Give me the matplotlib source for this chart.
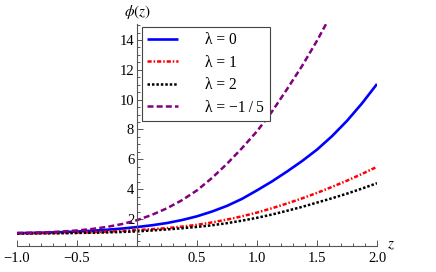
import numpy as np
import matplotlib
matplotlib.use("Agg")
import matplotlib.pyplot as plt

plt.rcParams['font.family'] = ['Liberation Serif', 'DejaVu Serif']
plt.rcParams['mathtext.fontset'] = 'stix'
plt.rcParams['lines.scale_dashes'] = False

# Data
z = [-1.0, -0.875, -0.75, -0.625, -0.5, -0.375, -0.25, -0.125, 0.0,
     0.125, 0.25, 0.375, 0.5, 0.625, 0.75, 0.875, 1.0,
     1.125, 1.25, 1.375, 1.5, 1.625, 1.75, 1.875, 2.0]
phi_l0 = [1.05, 1.07, 1.09, 1.12, 1.16, 1.21, 1.28, 1.36, 1.46,
          1.58, 1.73, 1.93, 2.18, 2.50, 2.88, 3.35, 3.92,
          4.52, 5.18, 5.88, 6.65, 7.55, 8.58, 9.75, 11.05]
phi_l1 = [1.04, 1.04, 1.05, 1.06, 1.08, 1.11, 1.15, 1.20, 1.26,
          1.32, 1.39, 1.49, 1.61, 1.77, 1.96, 2.18, 2.43,
          2.72, 3.04, 3.38, 3.75, 4.15, 4.57, 5.02, 5.50]
phi_l2 = [1.03, 1.03, 1.04, 1.05, 1.06, 1.08, 1.10, 1.13, 1.17,
          1.23, 1.30, 1.38, 1.47, 1.58, 1.72, 1.89, 2.08,
          2.30, 2.55, 2.81, 3.10, 3.39, 3.70, 4.04, 4.40]
z_m = [-1.0, -0.875, -0.75, -0.625, -0.5, -0.375, -0.25, -0.125, 0.0,
       0.125, 0.25, 0.375, 0.5, 0.625, 0.75, 0.875, 1.0,
       1.125, 1.25, 1.375, 1.5, 1.625]
phi_lm = [1.06, 1.08, 1.11, 1.16, 1.23, 1.33, 1.47, 1.66, 1.92,
          2.28, 2.72, 3.26, 3.92, 4.75, 5.70, 6.75, 7.88,
          9.20, 10.70, 12.25, 13.95, 15.80]
labels = ['λ = 0', 'λ = 1', 'λ = 2', 'λ = −1\u2009/\u20095']
xticks = [-1.0, -0.5, 0.5, 1.0, 1.5, 2.0]
yticks = [2, 4, 6, 8, 10, 12, 14]

W, H = 436, 272
fig = plt.figure(figsize=(W / 100, H / 100), dpi=100)
ax = fig.add_axes([17 / W, 1 - 246 / H, 360 / W, 222 / H])
ax.set_xlim(-1.0, 2.0)
ax.set_ylim(0.19, 15.07)

l0, = ax.plot(z, phi_l0, color='#0000ff', lw=1.9, solid_capstyle='butt')
l1, = ax.plot(z, phi_l1, color='#ff0000', lw=1.8, dashes=(3.0, 1.4, 1.1, 1.4))
l2, = ax.plot(z, phi_l2, color='black', lw=1.8, dashes=(1.8, 1.4))
lm, = ax.plot(z_m, phi_lm, color='#800080', lw=1.8, dashes=(4.3, 2.3))

for s in ['top', 'right']:
    ax.spines[s].set_visible(False)
ax.spines['left'].set_position(('data', 0))
for s in ['left', 'bottom']:
    ax.spines[s].set_color('#555555')
    ax.spines[s].set_linewidth(0.8)

ax.set_xticks(xticks)
ax.set_xticklabels([f'{v:.1f}'.replace('-', '−') for v in xticks])
ax.set_xticks(np.arange(-1.0, 2.01, 0.1), minor=True)
ax.set_yticks(yticks)
ax.set_yticklabels([str(v) for v in yticks])
ax.set_yticks(np.arange(0.5, 15.01, 0.5), minor=True)
ax.tick_params(axis='both', which='both', direction='in', color='#555555',
               labelsize=10.5, width=0.7)
ax.tick_params(axis='both', which='major', length=4)
ax.tick_params(axis='both', which='minor', length=2.2)
ax.tick_params(axis='x', pad=4.5)
ax.tick_params(axis='y', pad=2)

fig.text(137 / W, 1 - 12 / H, r'$\phi(z)$', ha='center', va='center', fontsize=11)
fig.text(387 / W, 1 - 246 / H, r'$z$', ha='left', va='center', fontsize=11)

leg = ax.legend([l0, l1, l2, lm], labels, loc='upper left',
                bbox_to_anchor=(142 / W, 1 - 27 / H), bbox_transform=fig.transFigure,
                borderaxespad=0, fontsize=11.2, handlelength=2.0, handletextpad=1.74,
                labelspacing=0.42, borderpad=0.34, fancybox=False, framealpha=1,
                edgecolor='#444444')
leg.get_frame().set_linewidth(0.8)

fig.savefig('out.png', dpi=100)
